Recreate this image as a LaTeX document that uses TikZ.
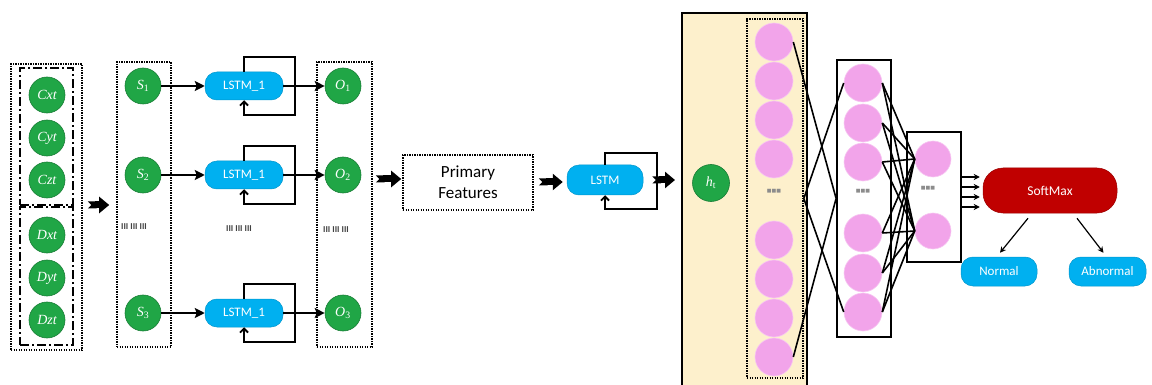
\documentclass[tikz,border=0pt]{standalone}
\usepackage{fontspec}
\setsansfont{Carlito}
\newfontfamily\dejavu{DejaVu Sans}
\newfontfamily\lblfont{Liberation Serif}
\usetikzlibrary{arrows.meta,calc}
\definecolor{ngreen}{RGB}{32,166,70}
\definecolor{npink}{RGB}{242,164,234}
\definecolor{nblue}{RGB}{0,176,240}
\definecolor{nred}{RGB}{192,0,0}
\definecolor{nbeige}{RGB}{253,240,204}
\newcommand{\sub}[1]{\textsubscript{\upshape #1}}
\begin{document}
\begin{tikzpicture}[x=1pt,y=-1pt,
  gnode/.style={circle,fill=ngreen,draw=ngreen!75!black,line width=0.6pt,minimum size=36pt,inner sep=0pt,text=white,font=\lblfont\itshape\fontsize{14}{16}\selectfont},
  pnode/.style={circle,fill=npink,draw=npink!60!white,line width=0.6pt,minimum size=38pt,inner sep=0pt},
  lstmbox/.style={rectangle,rounded corners=12pt,fill=nblue,draw=nblue!85!black,line width=0.5pt,minimum width=78pt,minimum height=28pt,inner sep=0pt,text=white,font=\sffamily\fontsize{13}{15}\selectfont},
  dotbox/.style={rectangle,draw,line width=1.6pt,dash pattern=on 1.4pt off 1.1pt,inner sep=0pt},
  dashdotbox/.style={rectangle,draw,line width=2pt,dash pattern=on 9pt off 3pt on 2pt off 3pt,inner sep=0pt},
  solidbox/.style={rectangle,draw,line width=1.8pt,inner sep=0pt},
  bigarrow/.style={line width=7pt,{Triangle Cap[reversed]}-{Triangle[length=10pt,width=16pt]}},
  flow/.style={line width=1.8pt,-{Stealth[length=10pt,width=10pt,inset=2pt]}},
  loopline/.style={line width=1.8pt,-{Straight Barb[length=4pt,width=8pt]}},
  thin/.style={line width=1.6pt},
  small/.style={line width=1.2pt,-{Stealth[length=6pt,width=6pt]}},
  tally/.style={font=\sffamily\bfseries\fontsize{9}{10}\selectfont,text=black!75,inner sep=0pt},
  sq/.style={font=\dejavu\fontsize{5}{6}\selectfont,text=black!45,inner sep=0pt}
]
\useasboundingbox (0,0) rectangle (1152,385);

% ---------- input block ----------
\node[dotbox,minimum width=71pt,minimum height=286pt] (inbox) at (46.5,207) {};
\node[dashdotbox,minimum width=53pt,minimum height=137pt] (cbox) at (46.5,136.5) {};
\node[dashdotbox,minimum width=53pt,minimum height=138pt] (dbox) at (46.5,276) {};
\node[gnode] (cx) at (47,95) {Cxt};
\node[gnode] (cy) at (47,138) {Cyt};
\node[gnode] (cz) at (47,180) {Czt};
\node[gnode] (dx) at (47,235) {Dxt};
\node[gnode] (dy) at (47,278) {Dyt};
\node[gnode] (dz) at (47,320) {Dzt};

% ---------- S column ----------
\node[dotbox,minimum width=54pt,minimum height=285pt] (sbox) at (144,204.5) {};
\node[gnode] (s1) at (143,86) {S\sub{1}};
\node[gnode] (s2) at (143,175) {S\sub{2}};
\node[gnode] (s3) at (143,313) {S\sub{3}};
\node[tally] (sdots) at (134,227) {III III III};

% ---------- LSTM_1 ----------
\node[lstmbox] (l1) at (244,86) {LSTM\_1};
\node[lstmbox] (l2) at (244,175) {LSTM\_1};
\node[lstmbox] (l3) at (244,313) {LSTM\_1};
\node[tally] (ldots) at (239,229) {III III III};

% ---------- O column ----------
\node[dotbox,minimum width=55pt,minimum height=285pt] (obox) at (344.5,204.5) {};
\node[gnode] (o1) at (343,86) {O\sub{1}};
\node[gnode] (o2) at (343,175) {O\sub{2}};
\node[gnode] (o3) at (343,313) {O\sub{3}};
\node[tally] (odots) at (336,230) {III III III};

\foreach \s/\l/\o in {s1/l1/o1, s2/l2/o2, s3/l3/o3}{
  \draw[flow] (\s.east) -- (\l.west);
  \draw[loopline] (\l.north) -- ++(0,-15) -- ++(51,0) -- ++(0,58) -| (\l.south);
  \draw[flow] (\l.east) -- (\o.west);
}

% ---------- Primary features & LSTM ----------
\node[dotbox,minimum width=130pt,minimum height=55pt,align=center,font=\sffamily\fontsize{17}{21}\selectfont] (pf) at (468,182.5) {Primary\\Features};
\node[lstmbox,minimum width=76pt,minimum height=30pt] (lstm) at (605,180) {LSTM};
\draw[loopline] (lstm.north) -- ++(0,-12) -- ++(52,0) -- ++(0,56) -| (lstm.south);

\draw[bigarrow] ([xshift=5pt]inbox.east |- 0,205) -- ([xshift=-7pt]sbox.west |- 0,205);
\draw[bigarrow] ([xshift=3pt]obox.east |- 0,179) -- ([xshift=-1pt]pf.west |- 0,179);
\draw[bigarrow] ([xshift=5pt]pf.east |- 0,182) -- ([xshift=-4pt]lstm.west |- 0,182);

% ---------- dense part ----------
\fill[nbeige] (682,13) rectangle (807,392);
\draw[line width=1.8pt] (682,392) -- (682,13) -- (807,13) -- (807,392);
\coordinate (beigeW) at (682,180);
\draw[bigarrow] ([xshift=9pt]lstm.east) -- ([xshift=-7pt]beigeW);

\node[gnode,minimum size=37pt] (ht) at (711,183) {h\sub{t}};
\node[dotbox,minimum width=56pt,minimum height=359pt] (pcol) at (775,198.5) {};
\foreach \i/\y in {1/42,2/81,3/120,4/159,5/240,6/279,7/318,8/357}{
  \node[pnode] (p\i) at (774,\y) {};
}
\node[sq] (pdots) at (774,191) {■■■};

\node[solidbox,minimum width=54pt,minimum height=277pt] (l2box) at (864,198.5) {};
\foreach \i/\y in {1/83,2/123,3/162,4/233,5/273,6/312}{
  \node[pnode] (q\i) at (863,\y) {};
}
\node[sq] (qdots) at (863,191) {■■■};

\node[solidbox,minimum width=54pt,minimum height=130pt] (l3box) at (934,197) {};
\node[pnode,minimum size=36pt] (r1) at (933,159) {};
\node[pnode,minimum size=36pt] (r2) at (933,231) {};
\node[sq] (rdots) at (928,188) {■■■};

\draw[thin] (p1.east) -- (l2box.west);
\draw[thin] (p8.east) -- (l2box.west);
\draw[thin] (pcol.east) -- (q1.west);
\draw[thin] (pcol.east) -- (q6.west);
\foreach \i in {1,...,6}{
  \draw[thin] (q\i.east) -- (r1.west);
  \draw[thin] (q\i.east) -- (r2.west);
}

% ---------- SoftMax ----------
\node[rectangle,rounded corners=20pt,fill=nred,draw=nred!80!black,line width=0.5pt,minimum width=134pt,minimum height=45pt,text=white,font=\sffamily\fontsize{13.5}{15}\selectfont] (sm) at (1050,190.5) {SoftMax};
\foreach \yy in {177,187,197,207}{
  \draw[small] (l3box.east |- 0,\yy) -- ([xshift=-3pt]sm.west |- 0,\yy);
}
\node[lstmbox,minimum width=76pt,minimum height=29pt] (nrm) at (999,271.5) {Normal};
\node[lstmbox,minimum width=77pt,minimum height=29pt] (abn) at (1107.5,271.5) {Abnormal};
\draw[small] ([xshift=-22pt,yshift=-5pt]sm.south) -- ([xshift=1pt,yshift=4pt]nrm.north);
\draw[small] ([xshift=27pt,yshift=-5pt]sm.south) -- ([xshift=-4pt,yshift=4pt]abn.north);
\end{tikzpicture}
\end{document}
